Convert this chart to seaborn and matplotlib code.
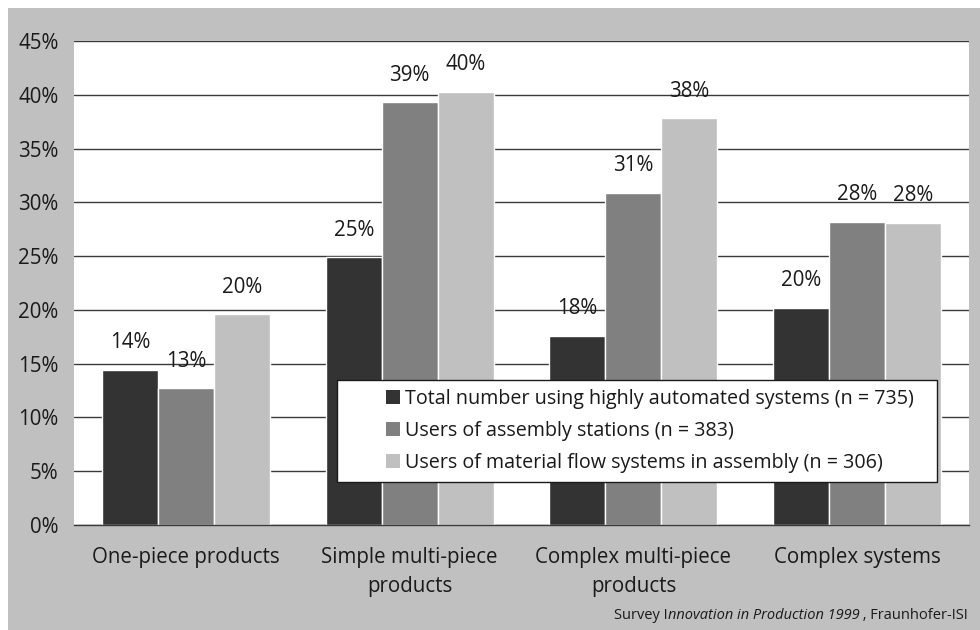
import matplotlib
matplotlib.use("Agg")
import matplotlib.pyplot as plt
import seaborn as sns
import pandas as pd
from matplotlib.patches import Rectangle, Patch
from matplotlib.ticker import FuncFormatter

categories = ["One-piece products", "Simple multi-piece\nproducts",
              "Complex multi-piece\nproducts", "Complex systems"]
series_names = ["Total number using highly automated systems (n = 735)",
                "Users of assembly stations (n = 383)",
                "Users of material flow systems in assembly (n = 306)"]
total_vals = [14.4, 24.9, 17.6, 20.2]
stations_vals = [12.7, 39.3, 30.9, 28.2]
material_vals = [19.6, 40.3, 37.8, 28.1]
y_ticks = [0, 5, 10, 15, 20, 25, 30, 35, 40, 45]
colors = ["#333333", "#808080", "#c0c0c0"]

sns.set_style("white")
FONT = ["Open Sans", "DejaVu Sans"]
plt.rcParams["font.family"] = FONT

rows = []
for name, vals in zip(series_names, [total_vals, stations_vals, material_vals]):
    for c, v in zip(categories, vals):
        rows.append({"category": c, "series": name, "value": v})
df = pd.DataFrame(rows)

W, H = 980, 630
fig = plt.figure(figsize=(W / 100, H / 100), dpi=100, facecolor="white")
fig.patches.append(Rectangle((8 / W, 0), 1 - 8 / W, 1 - 8 / H, transform=fig.transFigure,
                             facecolor="#c0c0c0", edgecolor="none", zorder=-5))

ax = fig.add_axes([74 / W, (H - 525) / H, 895 / W, 484 / H])
ax.set_zorder(1)
ax.set_facecolor("white")

sns.barplot(data=df, x="category", y="value", hue="series", order=categories,
            hue_order=series_names, palette=colors, width=0.75, gap=0,
            saturation=1, ax=ax, legend=False, zorder=3)

ax.set_ylim(0, 45)
ax.set_xlim(-0.5, 3.5)
ax.set_yticks(y_ticks)
ax.yaxis.set_major_formatter(FuncFormatter(lambda v, p: f"{v:.0f}%"))
ax.grid(axis="y", color="#3a3a3a", linewidth=1.0, zorder=1)
ax.set_axisbelow(True)
for s in ["top", "right", "left"]:
    ax.spines[s].set_visible(False)
ax.spines["bottom"].set_color("#3a3a3a")
ax.spines["bottom"].set_linewidth(1.0)
ax.spines["bottom"].set_zorder(4)
ax.tick_params(axis="both", length=0, labelsize=14.8, labelcolor="#1a1a1a")
ax.tick_params(axis="y", pad=11)
ax.tick_params(axis="x", pad=16)
ax.set_xlabel("")
ax.set_ylabel("")
for lab in ax.get_xticklabels():
    lab.set_linespacing(1.5)

for cont in ax.containers:
    labels = [f"{b.get_height():.0f}%" for b in cont]
    ax.bar_label(cont, labels=labels, padding=12, fontsize=14.8, color="#1a1a1a")

# legend box
fig.patches.append(Rectangle((337 / W, 1 - 482 / H), 600 / W, 102 / H,
                             transform=fig.transFigure, facecolor="white",
                             edgecolor="#1a1a1a", linewidth=1.0, zorder=5))
handles = [Patch(facecolor=c, edgecolor="none") for c in colors]
leg = fig.legend(handles, series_names, loc="upper left",
                 bbox_to_anchor=(386 / W, 1 - 389 / H), frameon=False,
                 fontsize=14.2, handlelength=0.72, handleheight=0.72,
                 handletextpad=0.25, labelspacing=0.6, borderpad=0,
                 borderaxespad=0)
leg.set_zorder(6)
for t in leg.get_texts():
    t.set_color("#1a1a1a")

# source line with mixed styles
fig.canvas.draw()
r = fig.canvas.get_renderer()
x_right = 968 / W
y_src = 1 - 619 / H
t3 = fig.text(x_right, y_src, " , Fraunhofer-ISI", ha="right", va="baseline",
              fontsize=10.5, color="#1a1a1a")
bb = t3.get_window_extent(r)
t2 = fig.text(bb.x0 / W, y_src, "nnovation in Production 1999", ha="right", va="baseline",
              fontsize=10.5, style="italic", color="#1a1a1a")
bb2 = t2.get_window_extent(r)
t1 = fig.text(bb2.x0 / W, y_src, "Survey I", ha="right", va="baseline",
              fontsize=10.5, color="#1a1a1a")

fig.savefig("out.png", dpi=100, facecolor="white")
